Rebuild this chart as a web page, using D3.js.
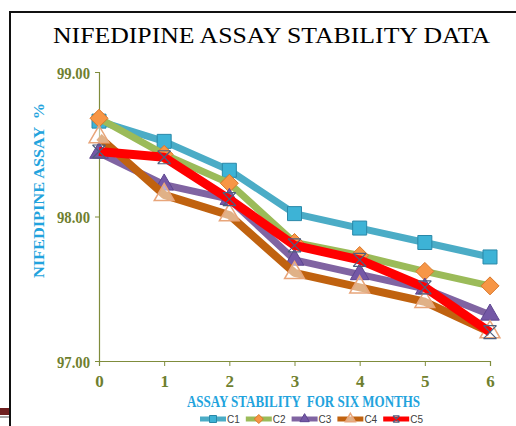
<!DOCTYPE html>
<html lang='en'>
  <head>
    <meta charset='utf-8'>
    <title>Nifedipine Assay Stability</title>
    <style>
  body {
    margin: 0;
    background: #ffffff;
  }
  svg {
    display: block;
  }
  .serif {
    font-family: "Liberation Serif", "Times New Roman", serif;
    white-space: pre;
  }
    </style>
  </head>
  <body>
    <div id="container"></div>

    <script src='https://cdnjs.cloudflare.com/ajax/libs/d3/7.8.5/d3.min.js'></script>
    <script>

      var months = [0, 1, 2, 3, 4, 5, 6];
      var seriesNames = ["C1", "C2", "C3", "C4", "C5"];
      var c1 = [98.66, 98.52, 98.32, 98.02, 97.92, 97.82, 97.72];
      var c2 = [98.68, 98.43, 98.23, 97.82, 97.73, 97.62, 97.52];
      var c3 = [98.44, 98.22, 98.12, 97.70, 97.60, 97.50, 97.32];
      var c4 = [98.55, 98.15, 98.01, 97.61, 97.51, 97.41, 97.20];
      var c5 = [98.45, 98.41, 98.12, 97.80, 97.70, 97.51, 97.20];
      var yTicks = [97, 98, 99];

      var w = 516;
      var h = 426;

      var styles = [
        {line: "#4BACC6", width: 7, marker: "square", fill: "#3DB3D6", stroke: "#2A88A8", size: 196},
        {line: "#9BBB59", width: 7, marker: "diamond", fill: "#F79646", stroke: "#D9772A", size: 9},
        {line: "#8064A2", width: 7, marker: "triangle", fill: "#7458A6", stroke: "#5E4690", size: 150},
        {line: "#C0620F", width: 8, marker: "opentri", fill: "#ffffff", stroke: "#E8A57A", size: 170},
        {line: "#FF0000", width: 9, marker: "x", fill: "none", stroke: "#4E5F7E", size: 13}
      ];

      var data = [c1, c2, c3, c4, c5].map(function(vals, i) {
        return {
          name: seriesNames[i],
          style: styles[i],
          points: vals.map(function(v, j) { return {x: months[j], y: v}; })
        };
      });

      var xScale = d3.scaleLinear().domain([0, 6]).range([99, 490]);
      var yScale = d3.scaleLinear().domain([97, 99]).range([361, 72]);

      var svg = d3.select("#container").append("svg")
        .attr("width", w)
        .attr("height", h);

      // frame of the page the chart sits in
      svg.append("path")
        .attr("d", "M10," + h + "V12H" + w)
        .attr("fill", "none")
        .attr("stroke", "#111")
        .attr("stroke-width", 2);
      svg.append("rect")
        .attr("x", 0).attr("y", 408)
        .attr("width", 9).attr("height", 7)
        .attr("fill", "#6E1F1F");
      svg.append("line")
        .attr("x1", 0).attr("x2", 9)
        .attr("y1", 417).attr("y2", 417)
        .attr("stroke", "#555").attr("stroke-width", 1);

      svg.append("text")
        .attr("class", "serif")
        .attr("x", 53)
        .attr("y", 43)
        .attr("font-size", 24)
        .attr("textLength", 437)
        .attr("lengthAdjust", "spacingAndGlyphs")
        .attr("fill", "#000")
        .text("NIFEDIPINE ASSAY STABILITY DATA");

      var axisColor = "#7F8C3C";

      var yAxis = d3.axisLeft(yScale)
        .tickValues(yTicks)
        .tickSize(4)
        .tickFormat(d3.format(".2f"));

      var gy = svg.append("g")
        .attr("transform", "translate(99,0)")
        .call(yAxis);
      gy.select(".domain").attr("stroke", axisColor).attr("stroke-width", 1.2);
      gy.selectAll(".tick line").attr("stroke", axisColor);
      gy.selectAll(".tick text")
        .attr("class", "serif")
        .attr("x", -9)
        .attr("dy", "0.36em")
        .attr("font-size", 17)
        .attr("font-weight", "bold")
        .attr("textLength", 33)
        .attr("lengthAdjust", "spacingAndGlyphs")
        .attr("fill", "#6F7F2F");

      var xAxis = d3.axisBottom(xScale)
        .tickValues(months)
        .tickSize(5)
        .tickSizeOuter(5)
        .tickFormat(d3.format("d"));

      var gx = svg.append("g")
        .attr("transform", "translate(0,361)")
        .call(xAxis);
      gx.select(".domain").attr("stroke", axisColor).attr("stroke-width", 1.2);
      gx.selectAll(".tick line").attr("stroke", axisColor);
      gx.selectAll(".tick text")
        .attr("class", "serif")
        .attr("y", 14)
        .attr("font-size", 17)
        .attr("font-weight", "bold")
        .attr("fill", "#6F7F2F");

      svg.append("text")
        .attr("class", "serif")
        .attr("x", 187)
        .attr("y", 407)
        .attr("font-size", 17)
        .attr("font-weight", "bold")
        .attr("textLength", 233)
        .attr("lengthAdjust", "spacingAndGlyphs")
        .attr("fill", "#22A3DD")
        .text("ASSAY STABILITY  FOR SIX MONTHS");

      svg.append("text")
        .attr("class", "serif")
        .attr("transform", "translate(44,278) rotate(-90)")
        .attr("font-size", 15)
        .attr("font-weight", "bold")
        .attr("textLength", 175)
        .attr("lengthAdjust", "spacingAndGlyphs")
        .attr("fill", "#22A3DD")
        .text("NIFEDIPINE ASSAY  %");

      var line = d3.line()
        .x(function(d) { return xScale(d.x); })
        .y(function(d) { return yScale(d.y); });

      function drawMarker(g, st, scale) {
        var k = scale || 1;
        if (st.marker == "x") {
          var s = st.size * k / 2;
          g.append("path")
            .attr("d", "M" + (-s) + "," + (-s) + "L" + s + "," + s +
                       "M" + s + "," + (-s) + "L" + (-s) + "," + s +
                       "M" + (-s) + "," + (-s) + "H" + s +
                       "M" + (-s) + "," + s + "H" + s)
            .attr("fill", "none")
            .attr("stroke", st.stroke)
            .attr("stroke-width", 1.2);
          return;
        }
        if (st.marker == "diamond") {
          var r = st.size * k;
          g.append("path")
            .attr("d", "M0," + (-r) + "L" + r + ",0L0," + r + "L" + (-r) + ",0Z")
            .attr("fill", st.fill)
            .attr("stroke", st.stroke)
            .attr("stroke-width", 1);
          return;
        }
        var type = {square: d3.symbolSquare, triangle: d3.symbolTriangle,
                    opentri: d3.symbolTriangle}[st.marker];
        g.append("path")
          .attr("d", d3.symbol().type(type).size(st.size * k * k)())
          .attr("fill", st.fill)
          .attr("fill-opacity", st.marker == "opentri" ? 0.5 : 1)
          .attr("stroke", st.stroke)
          .attr("stroke-width", st.marker == "opentri" ? 1.5 : 1);
      }

      var series = svg.selectAll(".series")
        .data(data)
        .enter()
        .append("g")
        .attr("class", "series");

      series.append("path")
        .attr("d", function(d) { return line(d.points); })
        .attr("fill", "none")
        .attr("stroke", function(d) { return d.style.line; })
        .attr("stroke-width", function(d) { return d.style.width; })
        .attr("stroke-linejoin", "round");

      series.each(function(d) {
        var g = d3.select(this);
        d.points.forEach(function(p) {
          var m = g.append("g")
            .attr("transform", "translate(" + xScale(p.x) + "," + yScale(p.y) + ")");
          drawMarker(m, d.style, 1);
        });
      });

      // legend along the bottom
      var legend = svg.selectAll(".legend")
        .data(data)
        .enter()
        .append("g")
        .attr("class", "legend")
        .attr("transform", function(d, i) { return "translate(" + (200 + i * 45.8) + ",419)"; });

      legend.append("line")
        .attr("x1", 0).attr("x2", 26)
        .attr("stroke", function(d) { return d.style.line; })
        .attr("stroke-width", 5);

      legend.each(function(d) {
        var m = d3.select(this).append("g").attr("transform", "translate(13,0)");
        drawMarker(m, d.style, 0.5);
      });

      legend.append("text")
        .attr("x", 27)
        .attr("dy", "0.35em")
        .attr("font-family", "Liberation Sans, Arial, sans-serif")
        .attr("font-size", 10)
        .attr("fill", "#404040")
        .text(function(d) { return d.name; });

    </script>
  </body>
</html>
